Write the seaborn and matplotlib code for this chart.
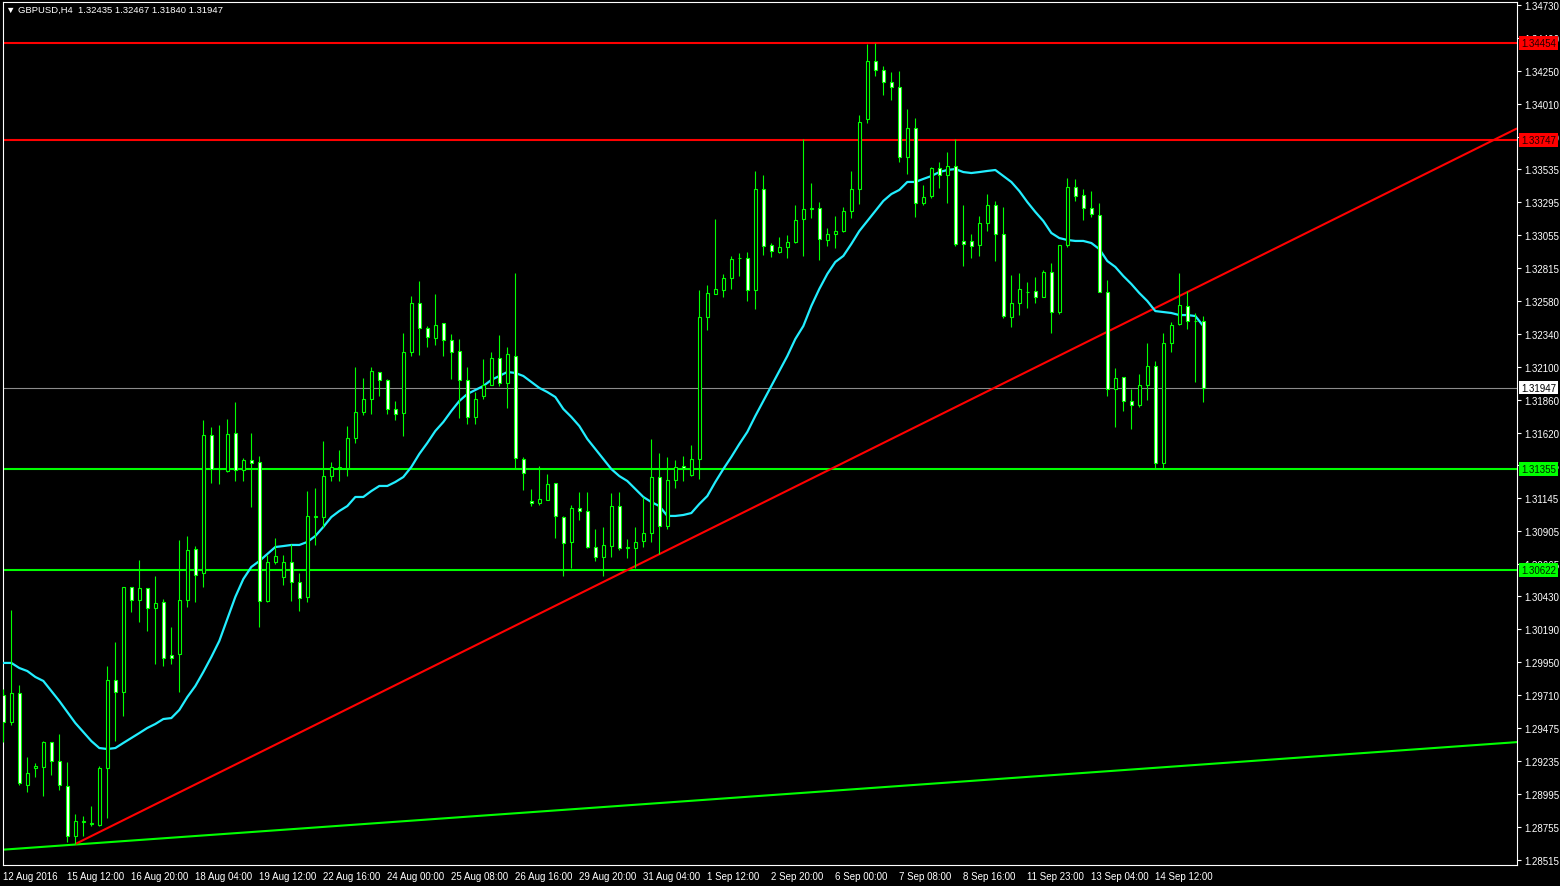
import numpy as np
import pandas as pd
import matplotlib
matplotlib.use("Agg")
import matplotlib.pyplot as plt
import seaborn as sns

# ---------------- data ----------------
opens = [1.29712, 1.29515, 1.29726, 1.29057, 1.29181, 1.29188, 1.29370, 1.29232, 1.29050, 1.28686,
         1.28788, 1.28774, 1.28766, 1.29181, 1.29821, 1.29734, 1.30497, 1.30403, 1.30490, 1.30345,
         1.30388, 1.30003, 1.30010, 1.30403, 1.30774, 1.30599, 1.31603, 1.31355, 1.31341, 1.31617,
         1.31348, 1.31421, 1.31406, 1.30395, 1.30679, 1.30570, 1.30679, 1.30534, 1.30425, 1.31006,
         1.31006, 1.31304, 1.31363, 1.31363, 1.31581, 1.31770, 1.31865, 1.32061, 1.32003, 1.31792,
         1.31763, 1.32206, 1.32563, 1.32381, 1.32308, 1.32417, 1.32294, 1.32214, 1.32003, 1.31734,
         1.31886, 1.31966, 1.32163, 1.31981, 1.32177, 1.31428, 1.31123, 1.31108, 1.31130, 1.31254,
         1.31006, 1.30825, 1.31072, 1.31050, 1.30788, 1.30715, 1.30795, 1.31086, 1.30781, 1.30781,
         1.30832, 1.30890, 1.31297, 1.30941, 1.31275, 1.31377, 1.31312, 1.31428, 1.32461, 1.32628,
         1.32657, 1.32745, 1.32890, 1.32890, 1.32657, 1.33392, 1.32985, 1.32934, 1.32970, 1.33006,
         1.33174, 1.33246, 1.33254, 1.33021, 1.33065, 1.33086, 1.33232, 1.33392, 1.33901, 1.34323,
         1.34257, 1.34170, 1.34134, 1.33625, 1.33835, 1.33290, 1.33341, 1.33545, 1.33494, 1.33559,
         1.33014, 1.33014, 1.32985, 1.33145, 1.33275, 1.33065, 1.32461, 1.32563, 1.32643, 1.32650,
         1.32606, 1.32788, 1.32497, 1.32985, 1.33406, 1.33348, 1.33254, 1.33203, 1.32643, 1.31937,
         1.32025, 1.31850, 1.31821, 1.31966, 1.32105, 1.31399, 1.32272, 1.32410, 1.32541, 1.32432,
         1.32435]
highs = [1.29755, 1.30330, 1.29785, 1.29261, 1.29217, 1.29377, 1.29370, 1.29428, 1.29225, 1.28846,
         1.28832, 1.28905, 1.29195, 1.29923, 1.30097, 1.30497, 1.30497, 1.30694, 1.30490, 1.30577,
         1.30410, 1.30206, 1.30839, 1.30868, 1.30795, 1.31712, 1.31661, 1.31675, 1.31719, 1.31843,
         1.31435, 1.31617, 1.31450, 1.30730, 1.30854, 1.30730, 1.30810, 1.30599, 1.31195, 1.31217,
         1.31559, 1.31406, 1.31494, 1.31668, 1.32097, 1.32017, 1.32097, 1.32061, 1.32010, 1.31850,
         1.32345, 1.32614, 1.32723, 1.32395, 1.32628, 1.32417, 1.32337, 1.32301, 1.32097, 1.31915,
         1.32155, 1.32206, 1.32330, 1.32243, 1.32781, 1.31443, 1.31210, 1.31377, 1.31319, 1.31254,
         1.31014, 1.31094, 1.31188, 1.31188, 1.30919, 1.30934, 1.31181, 1.31188, 1.30846, 1.30934,
         1.31152, 1.31574, 1.31472, 1.31443, 1.31421, 1.31450, 1.31530, 1.32657, 1.32694, 1.33174,
         1.32774, 1.32905, 1.32926, 1.32934, 1.33523, 1.33494, 1.32999, 1.33043, 1.33057, 1.33275,
         1.33755, 1.33435, 1.33297, 1.33108, 1.33196, 1.33261, 1.33523, 1.33930, 1.34446, 1.34454,
         1.34286, 1.34243, 1.34250, 1.33974, 1.33908, 1.33421, 1.33552, 1.33588, 1.33661, 1.33755,
         1.33275, 1.33065, 1.33196, 1.33355, 1.33305, 1.33261, 1.32766, 1.32781, 1.32716, 1.32752,
         1.32803, 1.32854, 1.32985, 1.33472, 1.33465, 1.33392, 1.33377, 1.33290, 1.32730, 1.32090,
         1.32025, 1.31937, 1.32046, 1.32272, 1.32141, 1.32345, 1.32425, 1.32781, 1.32650, 1.32490,
         1.32467]
lows = [1.29370, 1.29494, 1.29057, 1.29006, 1.29115, 1.28977, 1.29130, 1.29021, 1.28643, 1.28628,
        1.28686, 1.28759, 1.28759, 1.28817, 1.29377, 1.29559, 1.30315, 1.30243, 1.30177, 1.29937,
        1.29923, 1.29937, 1.29734, 1.30352, 1.30388, 1.30497, 1.31254, 1.31246, 1.31334, 1.31268,
        1.31268, 1.31079, 1.30206, 1.30388, 1.30664, 1.30512, 1.30395, 1.30323, 1.30388, 1.30803,
        1.30934, 1.31268, 1.31268, 1.31304, 1.31545, 1.31748, 1.31755, 1.31886, 1.31755, 1.31712,
        1.31595, 1.32177, 1.32185, 1.32243, 1.32257, 1.32177, 1.32010, 1.31726, 1.31683, 1.31683,
        1.31865, 1.31966, 1.31959, 1.31799, 1.31355, 1.31203, 1.31086, 1.31094, 1.31130, 1.30854,
        1.30577, 1.30635, 1.30985, 1.30781, 1.30686, 1.30577, 1.30715, 1.30766, 1.30708, 1.30635,
        1.30788, 1.30825, 1.30737, 1.30919, 1.31217, 1.31268, 1.31304, 1.31283, 1.32366, 1.32628,
        1.32606, 1.32665, 1.32759, 1.32577, 1.32519, 1.32912, 1.32897, 1.32926, 1.32890, 1.32999,
        1.32905, 1.33181, 1.32876, 1.32977, 1.32963, 1.33079, 1.33181, 1.33283, 1.33872, 1.34214,
        1.34075, 1.34039, 1.33588, 1.33501, 1.33188, 1.33275, 1.33326, 1.33399, 1.33290, 1.32977,
        1.32832, 1.32890, 1.32905, 1.33086, 1.32868, 1.32454, 1.32388, 1.32475, 1.32526, 1.32563,
        1.32606, 1.32345, 1.32483, 1.32970, 1.33305, 1.33166, 1.33188, 1.32643, 1.31886, 1.31661,
        1.31777, 1.31646, 1.31806, 1.31857, 1.31360, 1.31360, 1.32206, 1.32403, 1.32374, 1.31988,
        1.31840]
closes = [1.29515, 1.29726, 1.29072, 1.29145, 1.29195, 1.29370, 1.29232, 1.29057, 1.28686, 1.28795,
          1.28795, 1.28781, 1.29181, 1.29821, 1.29734, 1.30497, 1.30403, 1.30490, 1.30345, 1.30381,
          1.29981, 1.29981, 1.30403, 1.30766, 1.30585, 1.31603, 1.31355, 1.31356, 1.31610, 1.31348,
          1.31421, 1.31399, 1.30395, 1.30679, 1.30723, 1.30679, 1.30534, 1.30417, 1.31014, 1.31014,
          1.31304, 1.31370, 1.31370, 1.31581, 1.31770, 1.31865, 1.32068, 1.32003, 1.31792, 1.31755,
          1.32206, 1.32563, 1.32381, 1.32315, 1.32403, 1.32294, 1.32206, 1.32003, 1.31734, 1.31865,
          1.31966, 1.32163, 1.31981, 1.32193, 1.31435, 1.31326, 1.31108, 1.31137, 1.31246, 1.31014,
          1.30817, 1.31072, 1.31050, 1.30788, 1.30715, 1.30803, 1.31086, 1.30781, 1.30788, 1.30825,
          1.30890, 1.31297, 1.30941, 1.31275, 1.31370, 1.31363, 1.31428, 1.32461, 1.32636, 1.32665,
          1.32745, 1.32883, 1.32889, 1.32657, 1.33392, 1.32977, 1.32941, 1.32970, 1.33006, 1.33166,
          1.33246, 1.33254, 1.33028, 1.33065, 1.33086, 1.33232, 1.33392, 1.33879, 1.34323, 1.34257,
          1.34170, 1.34134, 1.33625, 1.33835, 1.33290, 1.33334, 1.33545, 1.33494, 1.33559, 1.32992,
          1.32992, 1.32977, 1.33145, 1.33275, 1.33065, 1.32468, 1.32563, 1.32665, 1.32642, 1.32606,
          1.32788, 1.32497, 1.32985, 1.33406, 1.33341, 1.33254, 1.33210, 1.32643, 1.31937, 1.32017,
          1.31850, 1.31821, 1.31966, 1.32105, 1.31399, 1.32272, 1.32403, 1.32548, 1.32432, 1.32435,
          1.31947]
ma_values = [1.29945, 1.29945, 1.29908, 1.29886, 1.29843, 1.29814, 1.29741, 1.29668, 1.29588, 1.29508,
             1.29443, 1.29377, 1.29326, 1.29319, 1.29326, 1.29363, 1.29399, 1.29435, 1.29472, 1.29501,
             1.29537, 1.29544, 1.29603, 1.29697, 1.29777, 1.29879, 1.29988, 1.30105, 1.30265, 1.30425,
             1.30555, 1.30643, 1.30686, 1.30737, 1.30788, 1.30795, 1.30803, 1.30803, 1.30825, 1.30868,
             1.30934, 1.31006, 1.31050, 1.31086, 1.31152, 1.31152, 1.31195, 1.31232, 1.31232, 1.31261,
             1.31297, 1.31370, 1.31465, 1.31545, 1.31632, 1.31697, 1.31777, 1.31850, 1.31901, 1.31930,
             1.31959, 1.32003, 1.32032, 1.32061, 1.32054, 1.32032, 1.31988, 1.31945, 1.31915, 1.31879,
             1.31792, 1.31734, 1.31668, 1.31574, 1.31501, 1.31428, 1.31355, 1.31304, 1.31268, 1.31210,
             1.31152, 1.31115, 1.31086, 1.31014, 1.31014, 1.31021, 1.31035, 1.31101, 1.31159, 1.31261,
             1.31355, 1.31443, 1.31537, 1.31625, 1.31741, 1.31850, 1.31959, 1.32068, 1.32177, 1.32301,
             1.32395, 1.32541, 1.32665, 1.32774, 1.32861, 1.32905, 1.32992, 1.33086, 1.33159, 1.33232,
             1.33305, 1.33355, 1.33385, 1.33443, 1.33443, 1.33465, 1.33486, 1.33515, 1.33530, 1.33537,
             1.33515, 1.33508, 1.33515, 1.33523, 1.33530, 1.33486, 1.33443, 1.33377, 1.33297, 1.33225,
             1.33159, 1.33072, 1.33035, 1.33021, 1.33014, 1.33014, 1.32999, 1.32955, 1.32868, 1.32825,
             1.32759, 1.32701, 1.32635, 1.32577, 1.32504, 1.32497, 1.32490, 1.32475, 1.32475, 1.32468,
             1.32395]

x_tick_labels = ["12 Aug 2016", "15 Aug 12:00", "16 Aug 20:00", "18 Aug 04:00", "19 Aug 12:00",
                 "22 Aug 16:00", "24 Aug 00:00", "25 Aug 08:00", "26 Aug 16:00", "29 Aug 20:00",
                 "31 Aug 04:00", "1 Sep 12:00", "2 Sep 20:00", "6 Sep 00:00", "7 Sep 08:00",
                 "8 Sep 16:00", "11 Sep 23:00", "13 Sep 04:00", "14 Sep 12:00"]
bars_per_label = 8
y_tick_values = [1.34730, 1.34490, 1.34250, 1.34010, 1.33770, 1.33535, 1.33295, 1.33055, 1.32815,
                 1.32580, 1.32340, 1.32100, 1.31860, 1.31620, 1.31385, 1.31145, 1.30905, 1.30665,
                 1.30430, 1.30190, 1.29950, 1.29710, 1.29475, 1.29235, 1.28995, 1.28755, 1.28515]
resistance_levels = [1.34454, 1.33747]
support_levels = [1.31355, 1.30622]
last_price = 1.31947
red_trend_bars = [9, 150]
red_trend_prices = [1.28628, 1.32700]
green_trend_bars = [0, 150]
green_trend_prices = [1.28587, 1.29207]
title_text = "\u25BC GBPUSD,H4  1.32435 1.32467 1.31840 1.31947"
y_range = (1.284754, 1.347518)
x_range = (-0.04, 189.21)

# ---------------- style ----------------
sns.set_style("dark")
plt.rcParams['font.family'] = ['Liberation Sans', 'DejaVu Sans']
GREEN = "#00FF00"
RED = "#FF0000"
CYAN = "#22EEFF"
WHITE = "#FFFFFF"

W, H = 1560, 887
fig = plt.figure(figsize=(W / 100, H / 100), dpi=100, facecolor="black")
ax = fig.add_axes([3 / W, 21 / H, 1514 / W, 863 / H])
ax.set_facecolor("black")

df = pd.DataFrame({"bar": np.arange(len(opens)), "open": opens, "high": highs,
                   "low": lows, "close": closes, "ma": ma_values})
df["bottom"] = df[["open", "close"]].min(axis=1)
df["height"] = (df["close"] - df["open"]).abs()
bull = df["close"] >= df["open"]

# level lines
for lvl in resistance_levels:
    ax.axhline(lvl, color=RED, lw=1.5, zorder=2)
for lvl in support_levels:
    ax.axhline(lvl, color=GREEN, lw=1.5, zorder=2)
ax.axhline(last_price, color="#8C8C8C", lw=0.8, zorder=2)

# trend lines
ax.axline((green_trend_bars[0], green_trend_prices[0]),
          (green_trend_bars[1], green_trend_prices[1]), color=GREEN, lw=1.5, zorder=2)
slope = (red_trend_prices[1] - red_trend_prices[0]) / (red_trend_bars[1] - red_trend_bars[0])
ax.plot([red_trend_bars[0], x_range[1]],
        [red_trend_prices[0], red_trend_prices[0] + slope * (x_range[1] - red_trend_bars[0])],
        color=RED, lw=1.5, zorder=2, solid_capstyle="butt")

# moving average
sns.lineplot(data=df, x="bar", y="ma", color=CYAN, lw=1.6, ax=ax, zorder=2.6)

# candles
ax.vlines(df["bar"], df["low"], df["high"], color=GREEN, lw=0.8, zorder=3)
ax.bar(df["bar"][bull], df["height"][bull], bottom=df["bottom"][bull], width=0.42,
       color="black", edgecolor=GREEN, linewidth=0.8, zorder=4)
ax.bar(df["bar"][~bull], df["height"][~bull], bottom=df["bottom"][~bull], width=0.42,
       color=WHITE, edgecolor=GREEN, linewidth=0.8, zorder=4)

ax.set_xlim(*x_range)
ax.set_ylim(*y_range)
ax.set_xlabel("")
ax.set_ylabel("")
ax.grid(False)

# axes frame
for sp in ax.spines.values():
    sp.set_color(WHITE)
    sp.set_linewidth(0.8)
    sp.set_visible(True)

# y axis on the right
ax.yaxis.tick_right()
ax.set_yticks(y_tick_values)
ax.set_yticklabels([f"{v:.5f}" for v in y_tick_values])
ax.tick_params(axis="y", colors=WHITE, labelcolor=WHITE, length=3, width=0.8,
               pad=2, labelsize=7, direction="out", right=True, left=False)

# x axis
xt = np.arange(len(x_tick_labels)) * bars_per_label
ax.set_xticks(xt)
ax.set_xticklabels(x_tick_labels, ha="left")
ax.tick_params(axis="x", colors=WHITE, labelcolor=WHITE, length=4, width=0.8,
               pad=0.5, labelsize=7, direction="out")

# price boxes on the right
ytrans = ax.get_yaxis_transform()
boxes = [(l, RED, "#200000") for l in resistance_levels] + \
        [(l, GREEN, "#002000") for l in support_levels] + [(last_price, WHITE, "black")]
for lvl, fc, tc in boxes:
    ax.text(1.0028, lvl, f"{lvl:.5f}", transform=ytrans, ha="left", va="center",
            fontsize=7, color=tc, zorder=10, clip_on=False,
            bbox=dict(boxstyle="square,pad=0.18", fc=fc, ec="none"))

fig.text(6 / W, 1 - 10.5 / H, title_text, color=WHITE, fontsize=6.8, ha="left", va="center")

fig.savefig("out.png", dpi=100, facecolor="black")
